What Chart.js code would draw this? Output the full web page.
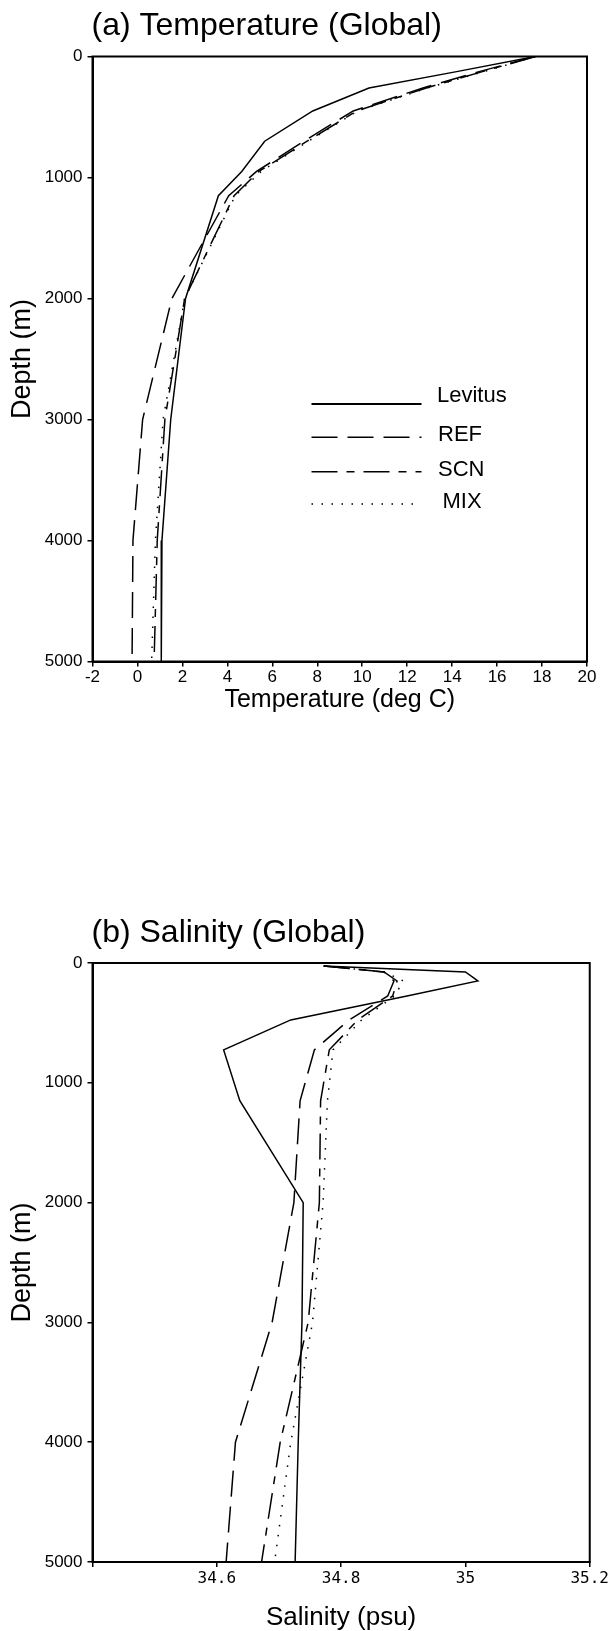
<!DOCTYPE html>
<html>
<head>
<meta charset="utf-8">
<script src="https://cdn.jsdelivr.net/npm/chart.js@4.4.0/dist/chart.umd.min.js"></script>
<style>
  html, body { margin: 0; padding: 0; background: #fff; }
  #wrap { position: relative; width: 611px; height: 1631px; }
  #wrap canvas { position: absolute; left: 0; }
  #tempChart { top: 0; }
  #salChart { top: 880px; }
</style>
</head>
<body>
<div id="wrap">
  <canvas id="tempChart" width="611" height="740"></canvas>
  <canvas id="salChart" width="611" height="751"></canvas>
</div>
<script>
// depth levels (m) and profiles
const tempDepth   = [0, 125, 260, 450, 700, 950, 1150, 2000, 3000, 4000, 5000];
const tempLevitus = [17.7, 14.2, 10.3, 7.8, 5.66, 4.64, 3.6, 2.14, 1.48, 1.09, 1.06];
const tempREF     = [17.7, 15.2, 12.7, 9.6, 7.4, 5.3, 4.06, 1.53, 0.23, -0.2, -0.24];
const tempSCN     = [17.7, 15.35, 12.85, 9.75, 7.55, 5.4, 4.3, 2.1, 1.22, 0.88, 0.74];
const tempMIX     = [17.7, 15.4, 12.9, 9.8, 7.6, 5.5, 4.35, 2.1, 1.14, 0.8, 0.63];

const salDepth   = [25, 75, 150, 275, 475, 725, 1150, 2000, 3000, 4000, 5000];
const salLevitus = [34.772, 35.0, 35.02, 34.906, 34.719, 34.611, 34.637, 34.739, 34.737, 34.731, 34.726];
const salREF     = [34.772, 34.869, 34.885, 34.875, 34.813, 34.757, 34.734, 34.724, 34.689, 34.630, 34.615];
const salSCN     = [34.772, 34.869, 34.89, 34.883, 34.827, 34.781, 34.767, 34.765, 34.747, 34.702, 34.672];
const salMIX     = [34.772, 34.87, 34.90, 34.886, 34.833, 34.787, 34.778, 34.771, 34.754, 34.719, 34.693];

const seriesNames   = ['Levitus', 'REF', 'SCN', 'MIX'];
const depthTicks    = [0, 1000, 2000, 3000, 4000, 5000];
const salTickLabels = ['', '34.6', '34.8', '35', '35.2'];

const dashes = [[], [26, 10], [26, 9, 8, 9], [1.5, 8.5]];
const FONT = '"Liberation Sans", Arial, Helvetica, sans-serif';

Chart.defaults.font.family = FONT;
Chart.defaults.color = '#000';

function series(vals, depth, i) {
  return {
    label: seriesNames[i],
    data: depth.map((d, k) => ({ x: vals[k], y: d })),
    borderColor: '#000',
    borderWidth: 1.5,
    borderDash: dashes[i],
    pointRadius: 0,
    showLine: true,
    fill: false,
    tension: 0
  };
}

// box around the plot area
const frame = {
  id: 'frame',
  afterDraw(chart) {
    const { ctx, chartArea: a } = chart;
    ctx.save();
    ctx.strokeStyle = '#000';
    ctx.lineWidth = 2;
    ctx.strokeRect(a.left, a.top, a.right - a.left, a.bottom - a.top);
    ctx.restore();
  }
};

// "(a) ..." style heading, left aligned on the plot box
const panelTitle = {
  id: 'panelTitle',
  afterDraw(chart, args, opts) {
    const { ctx, chartArea: a } = chart;
    ctx.save();
    ctx.font = '32px ' + FONT;
    ctx.fillStyle = '#000';
    ctx.textBaseline = 'alphabetic';
    ctx.fillText(opts.text, a.left - 1, a.top - 21.5);
    ctx.restore();
  }
};

// legend drawn inside the plot
const insideLegend = {
  id: 'insideLegend',
  afterDatasetsDraw(chart, args, opts) {
    if (!opts.show) return;
    const { ctx, chartArea: a } = chart;
    ctx.save();
    ctx.font = '22px ' + FONT;
    ctx.fillStyle = '#000';
    ctx.textBaseline = 'middle';
    chart.data.datasets.forEach((ds, i) => {
      const y = a.top + opts.rowY[i];
      ctx.beginPath();
      ctx.setLineDash(ds.borderDash);
      ctx.lineWidth = i === 0 ? 2 : 1.6;
      ctx.strokeStyle = '#000';
      ctx.moveTo(a.left + opts.x0, y);
      ctx.lineTo(a.left + opts.x1, y);
      ctx.stroke();
      ctx.fillText(ds.label, a.left + opts.textX[i], a.top + opts.textY[i]);
    });
    ctx.restore();
  }
};

function depthAxis(width) {
  return {
    type: 'linear',
    reverse: true,
    min: 0,
    max: 5000,
    afterBuildTicks: s => { s.ticks = depthTicks.map(v => ({ value: v })); },
    ticks: { callback: v => String(v), font: { size: 17 }, padding: 5 },
    grid: { drawOnChartArea: false, drawTicks: true, tickLength: 5, color: '#000', lineWidth: 1.5 },
    border: { display: true, color: '#000', width: 2 },
    title: { display: true, text: 'Depth (m)', font: { size: 27 }, padding: { top: 6, bottom: 0 } },
    afterFit: s => { s.width = width; }
  };
}

new Chart(document.getElementById('tempChart'), {
  type: 'scatter',
  data: { datasets: [
    series(tempLevitus, tempDepth, 0),
    series(tempREF, tempDepth, 1),
    series(tempSCN, tempDepth, 2),
    series(tempMIX, tempDepth, 3)
  ] },
  options: {
    responsive: false,
    animation: false,
    layout: { padding: { top: 56.5, right: 24, left: 0, bottom: 0 } },
    plugins: {
      legend: { display: false },
      tooltip: { enabled: false },
      panelTitle: { text: '(a) Temperature (Global)' },
      insideLegend: {
        show: true,
        x0: 219, x1: 329,
        rowY: [347.5, 380.8, 415.2, 447.5],
        textX: [344.5, 345.5, 345.5, 350],
        textY: [339.2, 378.5, 413.5, 445.2]
      }
    },
    scales: {
      x: {
        type: 'linear',
        min: -2,
        max: 20,
        ticks: { stepSize: 2, font: { size: 17 }, padding: 1, maxRotation: 0, autoSkip: false },
        grid: { drawOnChartArea: false, drawTicks: true, tickLength: 5, color: '#000', lineWidth: 1.5 },
        border: { display: true, color: '#000', width: 2 },
        title: { display: true, text: 'Temperature (deg C)', font: { size: 25 }, padding: { top: 0, bottom: 25 } },
        afterFit: s => { s.height = 740 - 661.5; }
      },
      y: depthAxis(92.5)
    }
  },
  plugins: [frame, panelTitle, insideLegend]
});

new Chart(document.getElementById('salChart'), {
  type: 'scatter',
  data: { datasets: [
    series(salLevitus, salDepth, 0),
    series(salREF, salDepth, 1),
    series(salSCN, salDepth, 2),
    series(salMIX, salDepth, 3)
  ] },
  options: {
    responsive: false,
    animation: false,
    layout: { padding: { top: 83, right: 21, left: 0, bottom: 0 } },
    plugins: {
      legend: { display: false },
      tooltip: { enabled: false },
      panelTitle: { text: '(b) Salinity (Global)' },
      insideLegend: { show: false }
    },
    scales: {
      x: {
        type: 'linear',
        min: 34.4,
        max: 35.2,
        ticks: {
          stepSize: 0.2,
          callback: (v, i) => salTickLabels[i],
          font: { family: '"DejaVu Sans Mono", "Liberation Mono", monospace', size: 16 },
          padding: 2, maxRotation: 0, autoSkip: false
        },
        grid: { drawOnChartArea: false, drawTicks: true, tickLength: 5, color: '#000', lineWidth: 1.5 },
        border: { display: true, color: '#000', width: 2 },
        title: { display: true, text: 'Salinity (psu)', font: { size: 26, lineHeight: 1 }, padding: { top: 0, bottom: 0 } },
        afterFit: s => { s.height = 751 - 682; }
      },
      y: depthAxis(92.5)
    }
  },
  plugins: [frame, panelTitle, insideLegend]
});
</script>
</body>
</html>
